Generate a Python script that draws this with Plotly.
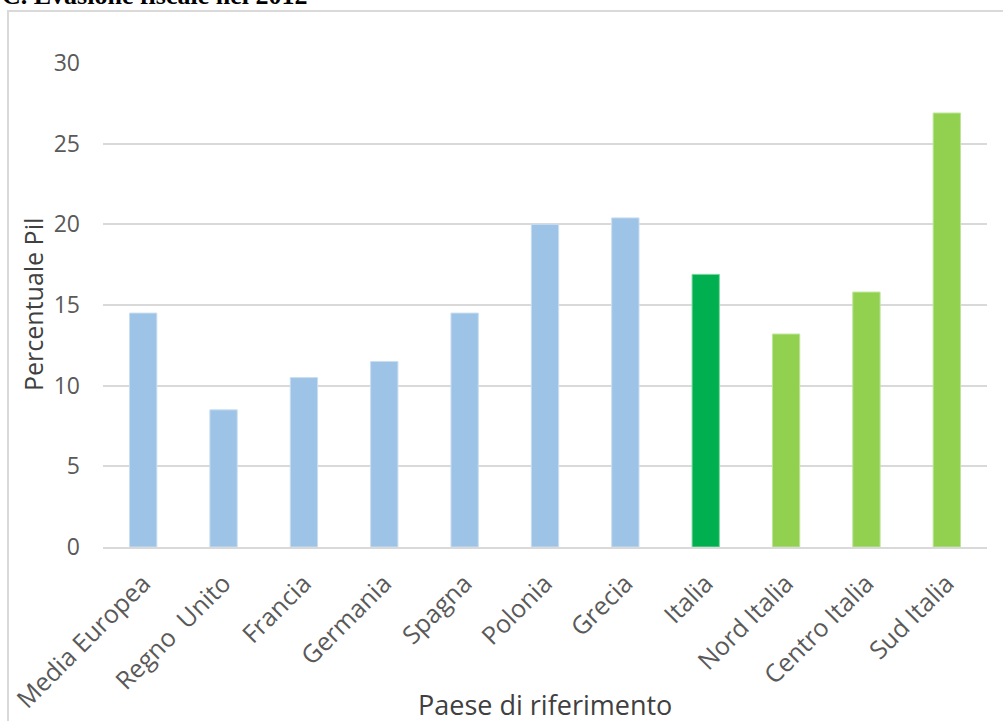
import plotly.graph_objects as go

categories = ["Media Europea", "Regno  Unito", "Francia", "Germania", "Spagna", "Polonia",
              "Grecia", "Italia", "Nord Italia", "Centro Italia", "Sud Italia"]
values = [14.5, 8.5, 10.5, 11.5, 14.5, 20.0, 20.4, 16.9, 13.2, 15.8, 26.9]
bar_colors = ["#9DC3E6"] * 7 + ["#00B050"] + ["#92D050"] * 3
line_colors = ["#C9DEF1"] * 7 + ["#7FD9A0"] + ["#BDE59A"] * 3
title_text = "C. Evasione fiscale nel 2012"
y_ticks = [0, 5, 10, 15, 20, 25, 30]

W, H = 1003, 721
L, R, T, B = 103, 16, 63, 174
pw, ph = W - L - R, H - T - B

def px_x(p):
    return (p - L) / pw

def px_y(p):
    return (H - B - p) / ph

fig = go.Figure(go.Bar(
    x=categories, y=values, width=0.34,
    marker=dict(color=bar_colors, line=dict(color=line_colors, width=1)),
))

fig.update_layout(
    width=W, height=H,
    margin=dict(l=L, r=R, t=T, b=B, autoexpand=False),
    plot_bgcolor="white", paper_bgcolor="white",
    showlegend=False,
    font=dict(family="Open Sans", color="#595959"),
    xaxis=dict(
        tickangle=-45, tickfont=dict(size=25, color="#595959"), automargin=False,
        showgrid=False, showline=True, linecolor="#D9D9D9", linewidth=1.5,
        ticklabelstandoff=10,
    ),
    yaxis=dict(
        range=[0, 30], tickvals=y_ticks, tickfont=dict(size=23, color="#595959"), automargin=False,
        showgrid=True, gridcolor="#D9D9D9", gridwidth=1.5, zeroline=False,
        ticklabelstandoff=22,
    ),
    shapes=[dict(type="rect", xref="paper", yref="paper",
                 x0=px_x(8), x1=px_x(1015), y0=px_y(740), y1=px_y(11),
                 line=dict(color="#D9D9D9", width=2), fillcolor="rgba(0,0,0,0)", layer="below")],
    annotations=[
        dict(text="<b>" + title_text + "</b>", xref="paper", yref="paper",
             x=px_x(0), y=px_y(12), xanchor="left", yanchor="bottom", showarrow=False,
             font=dict(family="Liberation Serif", size=26, color="black")),
        dict(text="Paese di riferimento", xref="paper", yref="paper",
             x=0.5, y=px_y(704), xanchor="center", yanchor="middle", showarrow=False,
             font=dict(size=27, color="#404040")),
        dict(text="Percentuale Pil", xref="paper", yref="paper", textangle=-90,
             x=px_x(33), y=0.5, xanchor="center", yanchor="middle", showarrow=False,
             font=dict(size=25, color="#404040")),
    ],
)

fig.write_html("out.html")
